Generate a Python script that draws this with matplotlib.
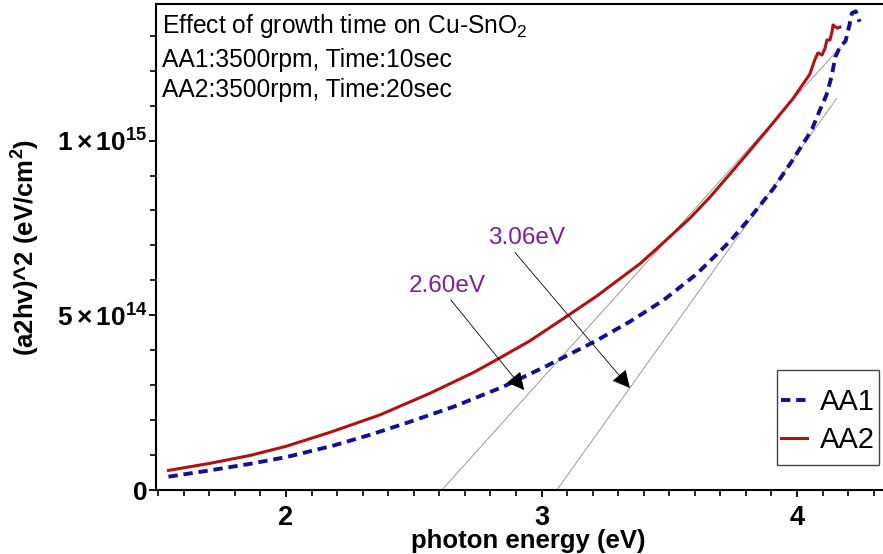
import matplotlib
matplotlib.use("Agg")
import matplotlib.pyplot as plt
from matplotlib.patches import Rectangle
from matplotlib.ticker import MultipleLocator, FuncFormatter, FixedLocator

plt.rcParams['font.family'] = ['Liberation Sans', 'DejaVu Sans']
plt.rcParams['mathtext.fontset'] = 'custom'
plt.rcParams['mathtext.rm'] = 'Liberation Sans'
plt.rcParams['mathtext.it'] = 'Liberation Sans:italic'
plt.rcParams['mathtext.bf'] = 'Liberation Sans:bold'

# ---- data (photon energy in eV, (a2hv)^2 in units of 1e15) ----
aa1_energy = [1.54, 1.70, 1.86, 2.00, 2.185, 2.329, 2.472, 2.655, 2.851, 3.020, 3.216,
              3.346, 3.477, 3.607, 3.738, 3.816, 3.907, 3.979, 4.04, 4.06, 4.09, 4.115,
              4.135, 4.15, 4.168, 4.19, 4.205, 4.215, 4.23, 4.245]
aa1_value = [0.038, 0.056, 0.075, 0.094, 0.127, 0.158, 0.192, 0.238, 0.296, 0.355, 0.428,
             0.482, 0.543, 0.618, 0.712, 0.779, 0.862, 0.940, 1.010, 1.035, 1.088, 1.130,
             1.182, 1.239, 1.268, 1.285, 1.330, 1.365, 1.370, 1.340]

aa2_energy = [1.54, 1.70, 1.86, 2.00, 2.172, 2.368, 2.564, 2.733, 2.825, 2.955, 3.105,
              3.216, 3.386, 3.477, 3.581, 3.659, 3.777, 3.883, 3.984, 4.05, 4.07, 4.082,
              4.098, 4.11, 4.117, 4.129, 4.137, 4.141, 4.157, 4.168]
aa2_value = [0.056, 0.076, 0.099, 0.125, 0.165, 0.215, 0.277, 0.336, 0.373, 0.427, 0.500,
             0.555, 0.648, 0.708, 0.778, 0.838, 0.938, 1.030, 1.120, 1.190, 1.232, 1.251,
             1.245, 1.265, 1.288, 1.288, 1.311, 1.331, 1.322, 1.325]

# tangent (Tauc) lines
tan1_energy = [2.61, 4.17]
tan1_value = [0.0, 1.268]
tan2_energy = [3.06, 4.155]
tan2_value = [0.0, 1.120]

scale = 1e15
series_labels = ['AA1', 'AA2']
info_lines = ['Effect of growth time on Cu-SnO$_2$',
              'AA1:3500rpm, Time:10sec',
              'AA2:3500rpm, Time:20sec']
gap_labels = ['2.60eV', '3.06eV']
# annotation geometry (energy, value/1e15)
gap_text_pos = [(2.63, 0.583), (2.94, 0.722)]
arrow_start = [(2.645, 0.544), (2.896, 0.680)]
arrow_end = [(2.932, 0.286), (3.346, 0.292)]

x_major = [2, 3, 4]
y_major = [0, 5e14, 1e15]

W, H = 883, 554
fig = plt.figure(figsize=(W / 100, H / 100), dpi=100)
ax = fig.add_axes([156 / W, 64 / H, 744 / W, 486 / H])

blue = '#11118f'
red = '#b01212'
purple = '#7a1fa0'

ax.plot(tan1_energy, [v * scale for v in tan1_value], color='#8a8a8a', lw=0.6, zorder=1)
ax.plot(tan2_energy, [v * scale for v in tan2_value], color='#8a8a8a', lw=0.6, zorder=1)

ax.plot(aa1_energy, [v * scale for v in aa1_value], color=blue, lw=2.8,
        dashes=(2.4, 1.5), label=series_labels[0], zorder=3)
ax.plot(aa2_energy, [v * scale for v in aa2_value], color=red, lw=2.2,
        label=series_labels[1], zorder=3)

for lab, tp, s, e in zip(gap_labels, gap_text_pos, arrow_start, arrow_end):
    ax.text(tp[0], tp[1] * scale, lab, color=purple, fontsize=17.5, ha='center', va='center')
    ax.annotate('', xy=(e[0], e[1] * scale), xytext=(s[0], s[1] * scale),
                arrowprops=dict(arrowstyle='-|>,head_length=0.55,head_width=0.28',
                                color='black', lw=0.6, mutation_scale=20,
                                shrinkA=0, shrinkB=0), zorder=4)

for i, line in enumerate(info_lines):
    fig.text(162 / W, 1 - [33, 67, 97][i] / H, line, fontsize=17.7, ha='left',
             va='baseline')

ax.set_xlim(2 - 130 / 255.5, 2 + (900 - 286) / 255.5)
ax.set_ylim(0, 486 / 349.4 * 1e15)

ax.xaxis.set_major_locator(FixedLocator(x_major))
ax.xaxis.set_minor_locator(MultipleLocator(0.1))
ax.yaxis.set_major_locator(FixedLocator(y_major))
ax.yaxis.set_minor_locator(MultipleLocator(1e14))


def yfmt(v, pos):
    if v == 0:
        return r'$\mathbf{0}$'
    exp = 0
    m = v
    while m >= 10:
        m /= 10
        exp += 1
    return r'$\mathbf{%d\times10^{%d}}$' % (round(m), exp)


ax.yaxis.set_major_formatter(FuncFormatter(yfmt))
ax.xaxis.set_major_formatter(FuncFormatter(lambda v, p: '%d' % v))

ax.tick_params(axis='both', which='major', direction='out', length=5, width=1.3)
ax.tick_params(axis='both', which='minor', direction='out', length=4, width=1.2)
ax.tick_params(axis='x', which='major', pad=6, labelsize=19.5)
ax.tick_params(axis='y', which='major', pad=1, labelsize=19)
for lab in ax.get_xticklabels():
    lab.set_fontweight('bold')

for sp in ['left', 'bottom', 'top']:
    ax.spines[sp].set_linewidth(1.5)
ax.spines['right'].set_visible(False)

ax.set_xlabel('photon energy (eV)', fontsize=18.5, fontweight='bold', labelpad=0)
ax.set_ylabel(r'(a2hv)^2 (eV/cm$^\mathbf{2}$)', fontsize=18.5, fontweight='bold')
ax.yaxis.set_label_coords((42 - 156) / 744, 0.5)
ax.xaxis.set_label_coords(0.5, -(548 - 490) / 486)
ax.xaxis.label.set_va('baseline')

# legend with a custom-sized frame
fig.patches.append(Rectangle((777 / W, 1 - 465 / H), 102 / W, 95 / H,
                             transform=fig.transFigure, fill=False,
                             edgecolor='#444444', linewidth=1.0, zorder=5))
leg = ax.legend(loc='center', bbox_to_anchor=(828 / W, 1 - 421 / H),
                bbox_transform=fig.transFigure, borderaxespad=0, fontsize=21,
                handlelength=0.9, handletextpad=0.45, borderpad=0.1,
                labelspacing=0.35, frameon=False)

fig.savefig('out.png', dpi=100)
